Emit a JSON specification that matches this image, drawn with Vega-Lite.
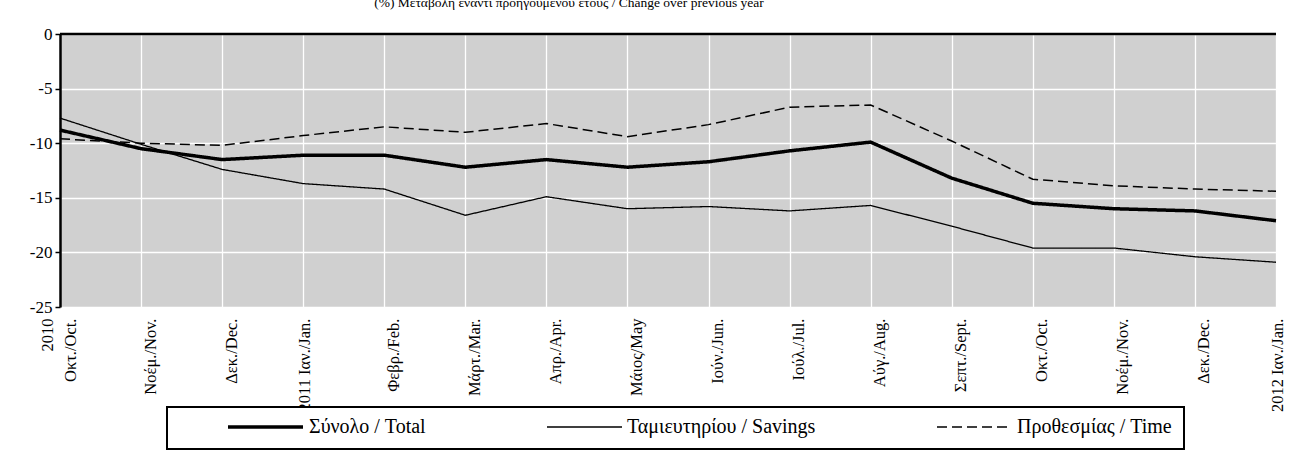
{
  "$schema": "https://vega.github.io/schema/vega-lite/v6.json",
  "width": 1216,
  "height": 273,
  "autosize": {"type": "none"},
  "padding": {"left": 60, "top": 34, "right": 29, "bottom": 156},
  "background": "white",
  "title": {
    "text": "(%) Μεταβολή έναντι προηγούμενου έτους / Change over previous year",
    "font": "Liberation Serif", "fontSize": 13.5, "fontWeight": "normal", "color": "black",
    "anchor": "middle", "frame": "group", "baseline": "alphabetic", "offset": 5, "dx": -99
  },
  "data": {"values": [
    {"m": "2010-10", "series": "Σύνολο / Total", "v": -8.8},
    {"m": "2010-11", "series": "Σύνολο / Total", "v": -10.5},
    {"m": "2010-12", "series": "Σύνολο / Total", "v": -11.5},
    {"m": "2011-01", "series": "Σύνολο / Total", "v": -11.1},
    {"m": "2011-02", "series": "Σύνολο / Total", "v": -11.1},
    {"m": "2011-03", "series": "Σύνολο / Total", "v": -12.2},
    {"m": "2011-04", "series": "Σύνολο / Total", "v": -11.5},
    {"m": "2011-05", "series": "Σύνολο / Total", "v": -12.2},
    {"m": "2011-06", "series": "Σύνολο / Total", "v": -11.7},
    {"m": "2011-07", "series": "Σύνολο / Total", "v": -10.7},
    {"m": "2011-08", "series": "Σύνολο / Total", "v": -9.9},
    {"m": "2011-09", "series": "Σύνολο / Total", "v": -13.2},
    {"m": "2011-10", "series": "Σύνολο / Total", "v": -15.5},
    {"m": "2011-11", "series": "Σύνολο / Total", "v": -16.0},
    {"m": "2011-12", "series": "Σύνολο / Total", "v": -16.2},
    {"m": "2012-01", "series": "Σύνολο / Total", "v": -17.1},
    {"m": "2010-10", "series": "Ταμιευτηρίου / Savings", "v": -7.7},
    {"m": "2010-11", "series": "Ταμιευτηρίου / Savings", "v": -10.1},
    {"m": "2010-12", "series": "Ταμιευτηρίου / Savings", "v": -12.4},
    {"m": "2011-01", "series": "Ταμιευτηρίου / Savings", "v": -13.7},
    {"m": "2011-02", "series": "Ταμιευτηρίου / Savings", "v": -14.2},
    {"m": "2011-03", "series": "Ταμιευτηρίου / Savings", "v": -16.6},
    {"m": "2011-04", "series": "Ταμιευτηρίου / Savings", "v": -14.9},
    {"m": "2011-05", "series": "Ταμιευτηρίου / Savings", "v": -16.0},
    {"m": "2011-06", "series": "Ταμιευτηρίου / Savings", "v": -15.8},
    {"m": "2011-07", "series": "Ταμιευτηρίου / Savings", "v": -16.2},
    {"m": "2011-08", "series": "Ταμιευτηρίου / Savings", "v": -15.7},
    {"m": "2011-09", "series": "Ταμιευτηρίου / Savings", "v": -17.6},
    {"m": "2011-10", "series": "Ταμιευτηρίου / Savings", "v": -19.6},
    {"m": "2011-11", "series": "Ταμιευτηρίου / Savings", "v": -19.6},
    {"m": "2011-12", "series": "Ταμιευτηρίου / Savings", "v": -20.4},
    {"m": "2012-01", "series": "Ταμιευτηρίου / Savings", "v": -20.9},
    {"m": "2010-10", "series": "Προθεσμίας / Time", "v": -9.6},
    {"m": "2010-11", "series": "Προθεσμίας / Time", "v": -10.0},
    {"m": "2010-12", "series": "Προθεσμίας / Time", "v": -10.2},
    {"m": "2011-01", "series": "Προθεσμίας / Time", "v": -9.3},
    {"m": "2011-02", "series": "Προθεσμίας / Time", "v": -8.5},
    {"m": "2011-03", "series": "Προθεσμίας / Time", "v": -9.0},
    {"m": "2011-04", "series": "Προθεσμίας / Time", "v": -8.2},
    {"m": "2011-05", "series": "Προθεσμίας / Time", "v": -9.4},
    {"m": "2011-06", "series": "Προθεσμίας / Time", "v": -8.3},
    {"m": "2011-07", "series": "Προθεσμίας / Time", "v": -6.7},
    {"m": "2011-08", "series": "Προθεσμίας / Time", "v": -6.5},
    {"m": "2011-09", "series": "Προθεσμίας / Time", "v": -9.8},
    {"m": "2011-10", "series": "Προθεσμίας / Time", "v": -13.3},
    {"m": "2011-11", "series": "Προθεσμίας / Time", "v": -13.9},
    {"m": "2011-12", "series": "Προθεσμίας / Time", "v": -14.2},
    {"m": "2012-01", "series": "Προθεσμίας / Time", "v": -14.4}
  ]},
  "layer": [
    {
      "mark": {"type": "line", "color": "black"},
      "encoding": {
        "x": {
          "field": "m", "type": "ordinal", "sort": null,
          "scale": {"type": "point", "padding": 0},
          "axis": {
            "orient": "bottom", "title": null, "domain": false, "ticks": false, "tickSize": 0,
            "labelAngle": -90, "labelPadding": 11, "labelLineHeight": 23, "labelFontSize": 16.5,
            "labelOverlap": false, "labelBound": false, "labelFlush": false,
            "labelExpr": "({'2010-10':['2010','Οκτ./Oct.'],'2010-11':'Νοέμ./Nov.','2010-12':'Δεκ./Dec.','2011-01':'2011 Ιαν./Jan.','2011-02':'Φεβρ./Feb.','2011-03':'Μάρτ./Mar.','2011-04':'Απρ./Apr.','2011-05':'Μάιος/May','2011-06':'Ιούν./Jun.','2011-07':'Ιούλ./Jul.','2011-08':'Αύγ./Aug.','2011-09':'Σεπτ./Sept.','2011-10':'Οκτ./Oct.','2011-11':'Νοέμ./Nov.','2011-12':'Δεκ./Dec.','2012-01':'2012 Ιαν./Jan.'})[datum.value]",
            "labelOffset": {"condition": [{"test": "datum.value == '2010-10'", "value": -13}, {"test": "datum.value == '2011-01' || datum.value == '2012-01'", "value": 1}], "value": 9},
            "grid": true
          }
        },
        "y": {
          "field": "v", "type": "quantitative",
          "scale": {"domain": [-25, 0], "nice": false, "zero": false},
          "axis": {
            "title": null, "values": [0, -5, -10, -15, -20, -25],
            "domain": true, "domainColor": "black", "domainWidth": 2.5,
            "ticks": true, "tickColor": "black", "tickSize": 5, "tickWidth": 1.5,
            "labelPadding": 3, "labelFontSize": 17, "labelExpr": "datum.value + ''", "grid": true
          }
        },
        "strokeDash": {
          "field": "series", "type": "nominal",
          "scale": {"domain": ["Σύνολο / Total", "Ταμιευτηρίου / Savings", "Προθεσμίας / Time"], "range": [[1, 0], [1, 0], [10, 5]]},
          "legend": {
            "orient": "none", "legendX": 107, "legendY": 373, "direction": "horizontal",
            "title": " ", "titleOrient": "left", "titlePadding": 47, "titleFontSize": 17,
            "symbolType": "stroke", "symbolSize": 5625, "symbolStrokeColor": "black", "clipHeight": 16,
            "labelFont": "Liberation Serif", "labelFontSize": 20, "labelColor": "black", "labelOffset": 4, "labelLimit": 400,
            "columnPadding": 120, "padding": 12, "strokeColor": "black", "fillColor": "white"
          }
        },
        "strokeWidth": {
          "field": "series", "type": "nominal",
          "scale": {"type": "ordinal", "domain": ["Σύνολο / Total", "Ταμιευτηρίου / Savings", "Προθεσμίας / Time"], "range": [3.5, 1.3, 1.5]},
          "legend": {
            "orient": "none", "legendX": 107, "legendY": 373, "direction": "horizontal",
            "title": " ", "titleOrient": "left", "titlePadding": 47, "titleFontSize": 17,
            "symbolType": "stroke", "symbolSize": 5625, "symbolStrokeColor": "black", "clipHeight": 16,
            "labelFont": "Liberation Serif", "labelFontSize": 20, "labelColor": "black", "labelOffset": 4, "labelLimit": 400,
            "columnPadding": 120, "padding": 12, "strokeColor": "black", "fillColor": "white"
          }
        }
      }
    },
    {
      "data": {"values": [{"z": 0}]},
      "mark": {"type": "rule", "color": "black", "strokeWidth": 2.5},
      "encoding": {"y": {"field": "z", "type": "quantitative"}}
    }
  ],
  "config": {
    "font": "Liberation Serif",
    "view": {"fill": "#d0d0d0", "stroke": null},
    "legend": {"strokeWidth": 2},
    "axis": {"labelFont": "Liberation Serif", "labelColor": "black", "labelFontSize": 14, "gridColor": "white", "gridWidth": 1.3, "gridOpacity": 1}
  }
}
